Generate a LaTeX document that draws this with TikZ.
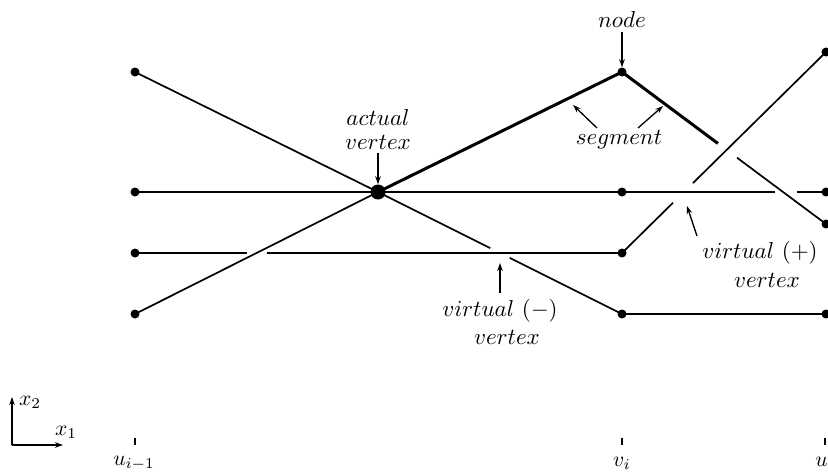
\documentclass[tikz,border=0pt]{standalone}
\usetikzlibrary{arrows.meta,calc}
\begin{document}
\begin{tikzpicture}[x=1pt,y=-1pt,
  thinln/.style={line width=1.7pt},
  thickln/.style={line width=3pt},
  dot/.style={circle,fill=black,inner sep=0pt,minimum size=9pt},
  bigdot/.style={circle,fill=black,inner sep=0pt,minimum size=15pt},
  lbl/.style={scale=2.3,transform shape,inner sep=0pt,align=center},
  axl/.style={scale=2.15,transform shape,inner sep=0pt},
  pt/.style={-{Stealth[length=8pt,width=5.5pt]},line width=1.3pt},
  tick/.style={line width=1.2pt}]
\useasboundingbox (0,0) rectangle (828,474);
% points
\coordinate (L1) at (135,72);
\coordinate (L2) at (135,192);
\coordinate (L3) at (135,253);
\coordinate (L4) at (135,314);
\coordinate (A) at (378,192);
\coordinate (N) at (622,72);
\coordinate (M2) at (622,192);
\coordinate (M3) at (622,253);
\coordinate (M4) at (622,314);
\coordinate (R1) at (826,52);
\coordinate (R2) at (826,192);
\coordinate (R3) at (826,224);
\coordinate (R4) at (826,314);
% lines
\draw[thinln] (L1) -- (A) -- ($(A)!0.46!(M4)$);
\draw[thinln] ($(A)!0.54!(M4)$) -- (M4) -- (R4);
\draw[thinln] (L4) -- (A);
\draw[thickln] (A) -- (N) -- ($(N)!0.47!(R3)$);
\draw[thinln] ($(N)!0.564!(R3)$) -- (R3);
\draw[thinln] (L3) -- ($(L3)!0.23!(M3)$);
\draw[thinln] ($(L3)!0.271!(M3)$) -- (M3) -- ($(M3)!0.25!(R1)$);
\draw[thinln] ($(M3)!0.348!(R1)$) -- (R1);
\draw[thinln] (L2) -- (M2) -- ($(M2)!0.75!(R2)$);
\draw[thinln] ($(M2)!0.858!(R2)$) -- (R2);
% dots
\foreach \p in {L1,L2,L3,L4,N,M2,M3,M4,R1,R2,R3,R4} \node[dot] (d\p) at (\p) {};
\node[bigdot] (dA) at (A) {};
% labels
\node[lbl] (tnode) at (622,20) {$node$};
\draw[pt] (622,32) -- (dN.north);
\node[lbl] (tseg) at (619,140) {$segment$};
\coordinate (s1) at (573,105);
\coordinate (s2) at (663,106);
\draw[pt] (597,128) -- (s1);
\draw[pt] (638,128) -- (s2);
\node[lbl] (tact1) at (378,118) {$actual$};
\node[lbl] (tact2) at (378,142) {$vertex$};
\draw[pt] (378,153) -- (dA.north);
\node[lbl] (tvm1) at (500,311) {$virtual\ (-)$};
\node[lbl] (tvm2) at (507,337) {$vertex$};
\coordinate (vm) at (500,263);
\draw[pt] (500,293) -- (vm);
\node[lbl] (tvp1) at (760,253) {$virtual\ (+)$};
\node[lbl] (tvp2) at (767,280) {$vertex$};
\coordinate (vp) at (687,206);
\draw[pt] (697,236) -- (vp);
% axes
\coordinate (O) at (12,445);
\coordinate (Ox) at (63,445);
\coordinate (Oy) at (12,397);
\draw[pt] (O) -- (Oy);
\draw[pt] (O) -- (Ox);
\node[axl] (tx2) at (30,402) {$x_2$};
\node[axl] (tx1) at (66,432) {$x_1$};
% ticks
\draw[tick] (135,438) -- (135,445);
\draw[tick] (622,438) -- (622,445);
\draw[tick] (825,438) -- (825,445);
\node[axl] (tu0) at (134,463) {$u_{i-1}$};
\node[axl] (tv) at (622,463) {$v_i$};
\node[axl] (tu1) at (825,463) {$u_i$};
\end{tikzpicture}
\end{document}
